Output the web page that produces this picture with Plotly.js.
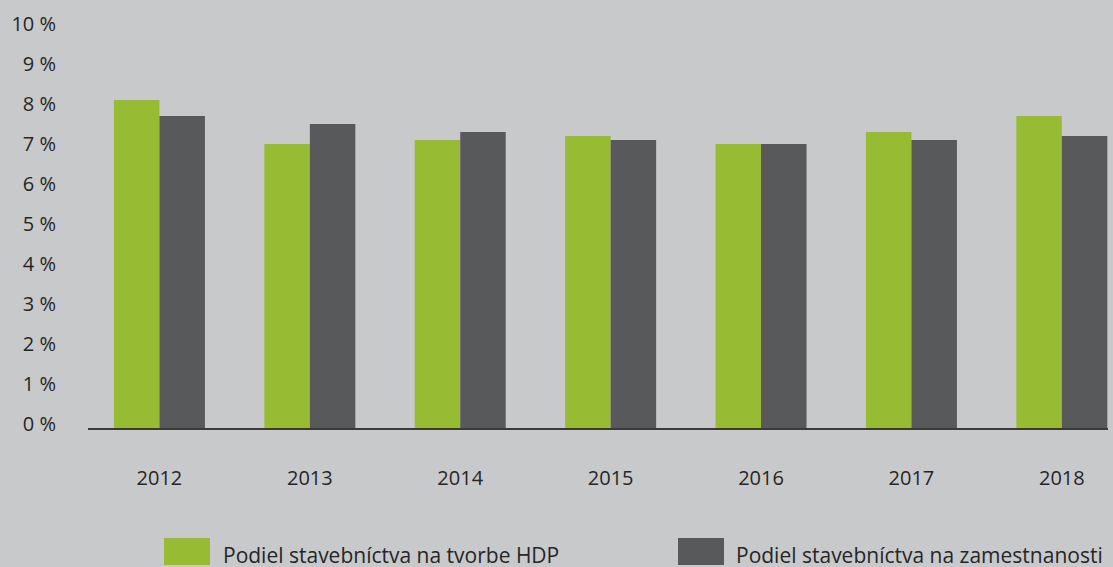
<!DOCTYPE html>
<html>
<head>
<meta charset="utf-8">
<script src="https://cdn.plot.ly/plotly-3.0.1.min.js"></script>
<style>html,body{margin:0;padding:0;background:#c8c9cb;overflow:hidden}</style>
</head>
<body>
<div id="chart" style="width:1113px;height:567px"></div>
<script>
const years = ['2012','2013','2014','2015','2016','2017','2018'];
const seriesNames = ['Podiel stavebníctva na tvorbe HDP', 'Podiel stavebníctva na zamestnanosti'];
const hdpShare = [8.2, 7.1, 7.2, 7.3, 7.1, 7.4, 7.8];
const employmentShare = [7.8, 7.6, 7.4, 7.2, 7.1, 7.2, 7.3];
const colors = ['#97bc33', '#58595b'];

const textColor = '#262626';
const fontFam = '"Open Sans", "Noto Sans", sans-serif';

const traces = [hdpShare, employmentShare].map((vals, i) => ({
  type: 'bar',
  x: years,
  y: vals,
  name: seriesNames[i],
  marker: {color: colors[i]},
  hoverinfo: 'x+y'
}));

// plot area in pixels: x 88..1108, y 28..428
const L = 88, R = 1108, T = 28, B = 428;
const px = v => (v - L) / (R - L);
const py = v => (B - v) / (B - T);

const shapes = [];
const annotations = [];
const legendBoxes = [[164, 210], [678, 724]];
const legendText = [221, 734];
seriesNames.forEach((n, i) => {
  shapes.push({type: 'rect', xref: 'paper', yref: 'paper',
    x0: px(legendBoxes[i][0]), x1: px(legendBoxes[i][1]),
    y0: py(538), y1: py(565), fillcolor: colors[i], line: {width: 0}});
  annotations.push({xref: 'paper', yref: 'paper', x: px(legendText[i]), y: py(555),
    xanchor: 'left', yanchor: 'middle', showarrow: false, text: n,
    font: {family: fontFam, size: 21, color: textColor}});
});

const layout = {
  width: 1113, height: 567,
  margin: {l: L, r: 1113 - R, t: T, b: 567 - B, pad: 0},
  paper_bgcolor: '#c8c9cb',
  plot_bgcolor: '#c8c9cb',
  showlegend: false,
  barmode: 'group',
  bargap: 0.395,
  bargroupgap: 0,
  font: {family: fontFam, size: 20, color: textColor},
  xaxis: {
    type: 'category',
    range: [-0.475, 6.307],
    showline: true, linecolor: '#3a3a3a', linewidth: 1.5,
    showgrid: false, zeroline: false, ticks: '',
    ticklabelstandoff: 31,
    tickfont: {family: fontFam, size: 20, color: textColor}
  },
  yaxis: {
    range: [0, 10],
    dtick: 1, tick0: 0,
    ticksuffix: ' %',
    showline: false, showgrid: false, zeroline: false, ticks: '',
    ticklabelstandoff: 31,
    ticklabelshift: -4,
    tickfont: {family: fontFam, size: 20, color: textColor}
  },
  shapes: shapes,
  annotations: annotations
};

Plotly.newPlot('chart', traces, layout, {displayModeBar: false, staticPlot: true});
</script>
</body>
</html>
